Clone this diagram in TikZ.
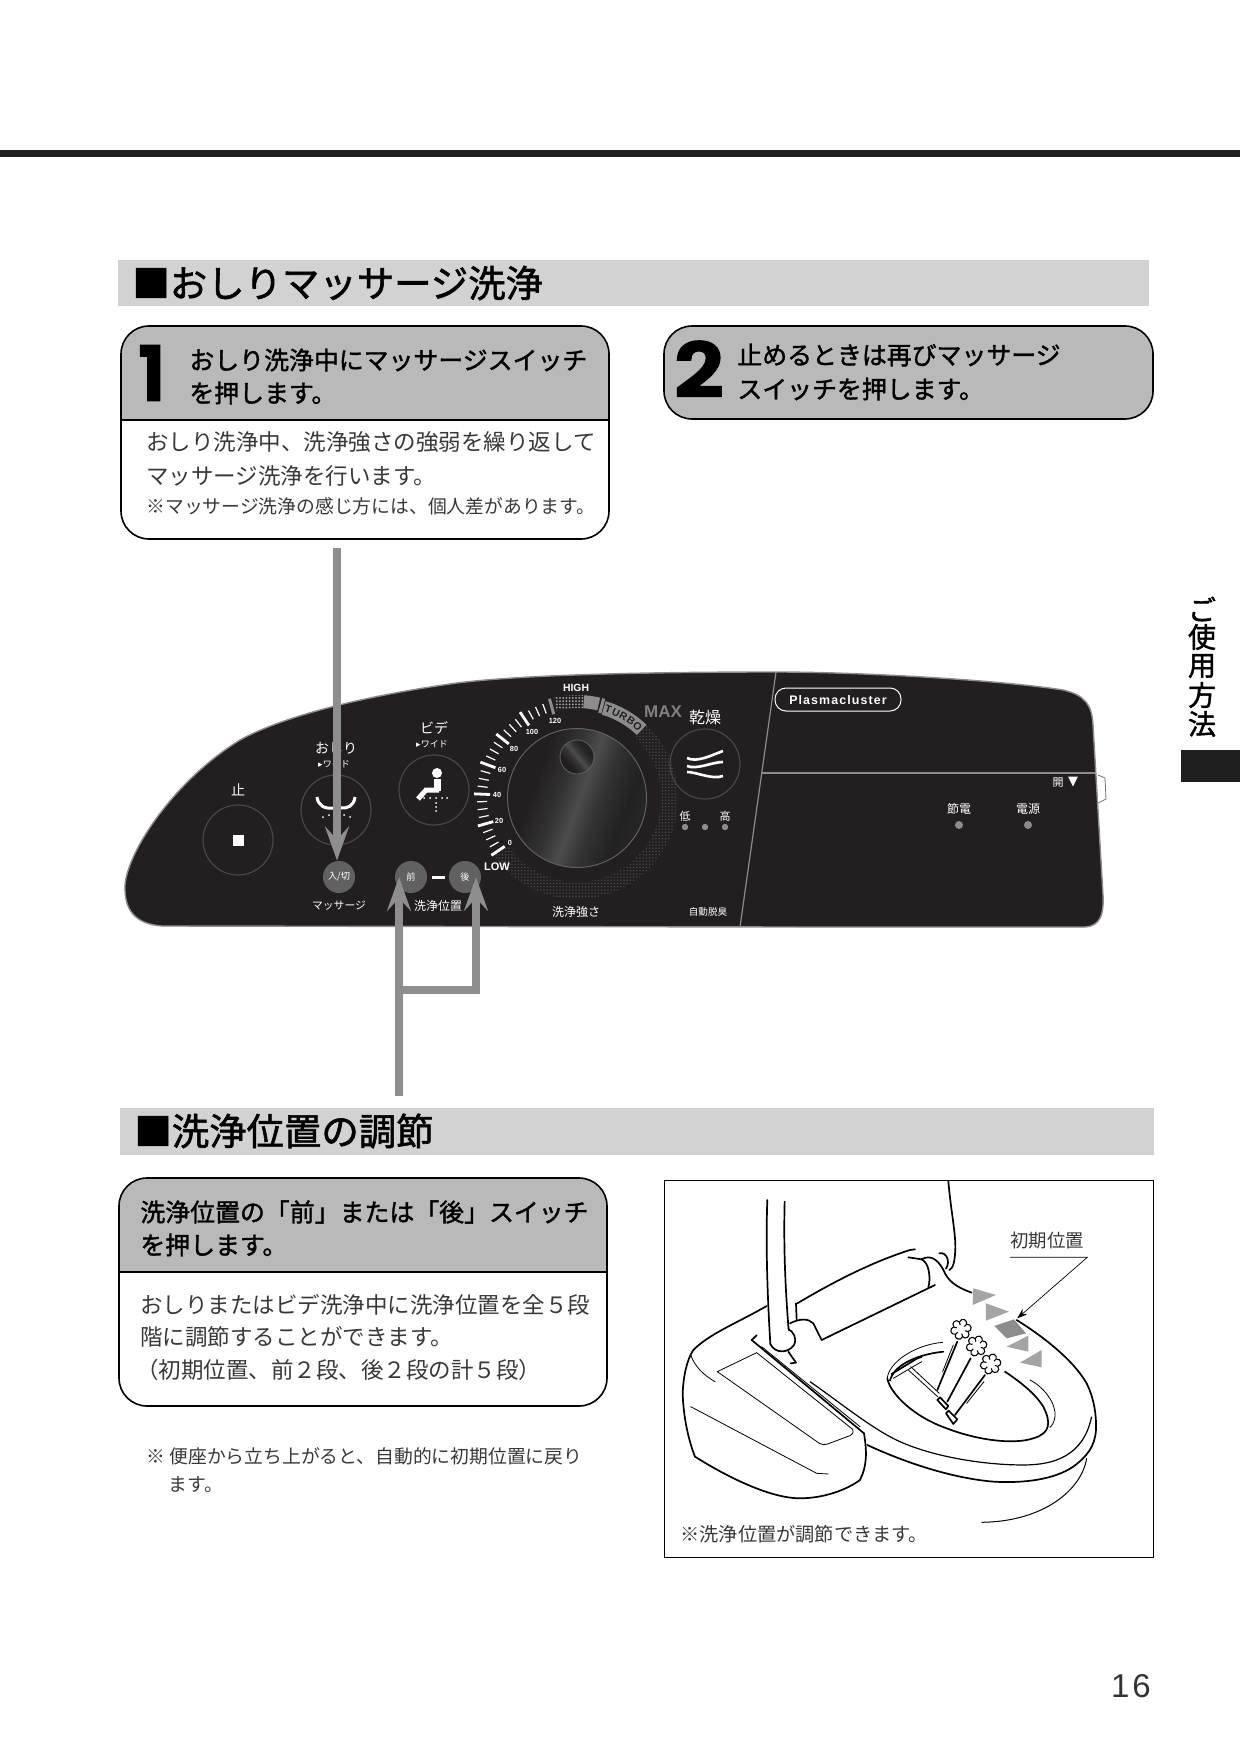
\documentclass[tikz,border=0pt]{standalone}
\usepackage{fontspec}
\usetikzlibrary{arrows.meta,patterns.meta}
\setmainfont{Noto Sans CJK JP}
\newfontfamily\jpmid[FakeBold=1.5]{Noto Sans CJK JP}
\newfontfamily\jptxt{Noto Sans CJK JP}
\newfontfamily\numfont[FakeBold=3.5]{Poppins SemiBold}
\newfontfamily\latbold{Liberation Sans Bold}
\newfontfamily\plasmafont[LetterSpace=9]{Liberation Sans Bold}
\newfontfamily\pagefont[LetterSpace=9]{Liberation Sans}
\newfontfamily\symfont{DejaVu Sans}
\newcommand{\fz}[1]{\fontsize{#1}{#1}\selectfont}
\definecolor{panelblack}{HTML}{231F20}
\definecolor{bandgray}{HTML}{D2D2D2}
\definecolor{headgray}{HTML}{B9B9B9}
\definecolor{arrowgray}{HTML}{8E8E8E}
\definecolor{marktri}{HTML}{A4A4A4}
\pgfdeclarehorizontalshading{knobshade}{100bp}{color(0bp)=(panelblack);color(34bp)=(panelblack);color(44bp)=(black!80);color(51bp)=(black!70);color(58bp)=(black!80);color(68bp)=(black!87);color(100bp)=(black!78)}

\begin{document}
\begin{tikzpicture}[
    x=0.5pt,y=-0.5pt,
    sechead/.style={anchor=west,inner sep=0pt,font=\jpmid\fz{18.7}},
    stephead/.style={anchor=west,inner sep=0pt,font=\jpmid\fz{12.45}},
    stepbody/.style={anchor=west,inner sep=0pt,text=black!78,font=\jptxt\fz{11.25}},
    stepnote/.style={anchor=west,inner sep=0pt,text=black!78,font=\jptxt\fz{9.4}},
    bignum/.style={inner sep=0pt,font=\numfont\fz{37}},
    box/.style={draw=black,line width=0.8pt,rounded corners=14pt},
    btn/.style={circle,draw=black!72,fill=panelblack,line width=0.6pt,minimum size=35pt,inner sep=0pt},
    minibtn/.style={circle,fill=black!62,minimum size=16pt,inner sep=0pt,text=white,font=\jptxt\fz{4.6}},
    lbl/.style={inner sep=0pt,text=white,font=\jptxt\fz{6}},
    lamp/.style={circle,fill=black!45,minimum size=4pt,inner sep=0pt},
    ticknum/.style={inner sep=0pt,text=white,font=\latbold\fz{3.7}},
    pointer/.style={draw=arrowgray,line width=4pt,-{Stealth[length=17pt,width=12pt,inset=6.5pt]}},
    seatline/.style={draw=black,line width=0.85pt,line cap=round,line join=round},
    thinline/.style={draw=black,line width=0.4pt,line cap=round},
    marker/.style={fill=marktri,draw=none},
]
\useasboundingbox (0,0) rectangle (1240,1754);

% top rule
\fill[black!88] (0,150) rectangle (1240,157);

% first section
\fill[bandgray] (118,260) rectangle (1149,306);
\node[sechead] (massagetitle) at (132,283) {■おしりマッサージ洗浄};

% step one
\begin{scope}
    \clip[rounded corners=14pt] (121,326) rectangle (609,539);
    \fill[headgray] (121,326) rectangle (609,420);
\end{scope}
\draw[box] (121,326) rectangle (609,539);
\draw[line width=0.8pt] (121,420) -- (609,420);
\node[bignum] (numone) at (152,373) {1};
\node[stephead] (oneheada) at (189,360) {おしり洗浄中にマッサージスイッチ};
\node[stephead] (oneheadb) at (189,393) {を押します。};
\node[stepbody] (onebodya) at (146,442) {おしり洗浄中、洗浄強さの強弱を繰り返して};
\node[stepbody] (onebodyb) at (146,476) {マッサージ洗浄を行います。};
\node[stepnote] (onenote) at (146,506) {※マッサージ洗浄の感じ方には、個人差があります。};

% step two
\draw[box,fill=headgray] (664,326) rectangle (1153,419);
\node[bignum,xscale=1.15] (numtwo) at (699,369) {2};
\node[stephead] (twoheada) at (737,355) {止めるときは再びマッサージ};
\node[stephead] (twoheadb) at (737,389) {スイッチを押します。};

% side tab
\foreach \ch/\yy/\idx in {ご/609/a,使/637/b,用/666/c,方/695/d,法/724/e}
    \node[inner sep=0pt,font=\jpmid\fz{14}] (tab\idx) at (1202,\yy) {\ch};
\fill[black!88] (1181,750) rectangle (1240,782);

% remote panel
\draw[draw=black!45,fill=panelblack,line width=0.7pt] (162,926)
    .. controls (135,924) and (124,910) .. (125,885)
    .. controls (128,850) and (175,780) .. (240,740)
    .. controls (285,715) and (370,695) .. (457,683)
    .. controls (520,675) and (640,672) .. (776,672)
    .. controls (860,672) and (1000,680) .. (1063,690)
    .. controls (1085,695) and (1092,705) .. (1093,725)
    -- (1103,895)
    .. controls (1104,915) and (1100,926) .. (1085,927)
    -- (800,927) -- cycle;
\draw[black!45,line width=0.6pt] (776,672) -- (740,927);
\draw[black!45,line width=0.7pt] (762,773) -- (1095,773);
\draw[black!55,line width=0.4pt,fill=white] (1098,775) -- (1105,778) -- (1106,799) -- (1098,803);
\draw[white,line width=0.5pt,rounded corners=5.5pt] (775,688) rectangle (901,711);
\node[inner sep=0pt,text=white,font=\plasmafont\fz{6.2}] (plasmalabel) at (838,700) {Plasmacluster};
\node[lbl,font=\jptxt\fz{5.5}] (openlabel) at (1058,783) {開};
\node[inner sep=0pt,text=white,font=\symfont\fz{6.5}] (openmark) at (1073,782) {▼};
\node[lbl] (savelabel) at (959,809) {節電};
\node[lbl] (powerlabel) at (1028,809) {電源};
\node[lamp] (savelamp) at (959,825) {};
\node[lamp] (powerlamp) at (1028,825) {};

% buttons
\node[btn] (btnstop) at (238,840) {};
\fill[white] (232.5,834.5) rectangle (243.5,845.5);
\node[lbl,font=\jptxt\fz{7}] (stoplabel) at (238,790) {止};
\node[btn] (btnoshiri) at (336,810) {};
\node[lbl,font=\jptxt\fz{7}] (oshirilabel) at (336,748) {おしり};
\node[lbl,font=\jptxt\fz{4.5}] (oshiriwide) at (334,764) {{\symfont ▸}ワイド};
\node[btn] (btnbidet) at (434,790) {};
\node[lbl,font=\jptxt\fz{7}] (bidetlabel) at (434,728) {ビデ};
\node[lbl,font=\jptxt\fz{4.5}] (bidetwide) at (432,744) {{\symfont ▸}ワイド};
\node[btn] (btndry) at (705,764) {};
\node[lbl,font=\jptxt\fz{8}] (drylabel) at (705,717) {乾燥};
\node[minibtn] (btnmass) at (339,877) {入/切};
\node[minibtn] (btnfront) at (411,877) {前};
\node[minibtn] (btnrear) at (465,877) {後};
\fill[white] (432,876) rectangle (445,878.5);
\node[lbl,font=\jptxt\fz{5.4}] (masslabel) at (339,906) {マッサージ};
\node[lbl] (poslabel) at (438,906) {洗浄位置};
\node[lbl] (forcelabel) at (576,912) {洗浄強さ};
\node[lbl,font=\jptxt\fz{4.8}] (deodlabel) at (708,912) {自動脱臭};
\node[lbl,font=\jptxt\fz{5.5}] (lowheat) at (685,816) {低};
\node[lbl,font=\jptxt\fz{5.5}] (highheat) at (725,816) {高};
\foreach \xx/\idx in {685/a,705/b,725/c}
    \node[lamp,minimum size=3.2pt] (heat\idx) at (\xx,827) {};

% button icons
\draw[white,line width=1.5pt] (317,797) .. controls (318,806) and (325,809) .. (333,808);
\draw[white,line width=1.5pt] (355,797) .. controls (354,806) and (347,809) .. (340,808);
\foreach \xx/\yy in {323/817,329/815,334/816,339/816,344/815,350/817}
    \fill[white] (\xx,\yy) circle [radius=1];
\fill[white] (437,773) circle [radius=5];
\draw[white,line width=3.5pt] (437,779) -- (437,791);
\draw[white,line width=2.5pt] (439,790) -- (426,790) -- (418,799);
\foreach \xx/\yy in {424/798,430/798,436/798,442/798,447/798,436/803,436/807,436/811}
    \fill[white] (\xx,\yy) circle [radius=1];
\draw[white,line width=1.3pt] (687,758) .. controls (697,763) and (712,755) .. (723,751);
\draw[white,line width=1.3pt] (687,766) .. controls (697,770) and (712,762) .. (723,762);
\draw[white,line width=1.3pt] (687,772) .. controls (697,772) and (712,780) .. (723,776);

% dial
\begin{scope}[shift={(577,798)}]
    % dotted ring
    \fill[pattern={Dots[radius=0.45pt,distance=1.6pt]},pattern color=black!72] (-46:84) arc[start angle=-46,end angle=146,radius=84] -- (146:101) arc[start angle=146,end angle=-46,radius=101] -- cycle;
    \fill[pattern={Dots[radius=0.55pt,distance=1.6pt]},pattern color=black!40] (-103:90) arc[start angle=-103,end angle=-86,radius=90] -- (-86:103) arc[start angle=-86,end angle=-103,radius=103] -- cycle;
    \fill[black!45] (-86:90) arc[start angle=-86,end angle=-77,radius=90] -- (-77:103) arc[start angle=-77,end angle=-86,radius=103] -- cycle;
    \draw[black!45,line width=1.6pt] (-75:88) -- (-75:103);
    % turbo band
    \fill[black!45] (-73.5:87) arc[start angle=-73.5,end angle=-46.5,radius=87] -- (-46.5:101) arc[start angle=-46.5,end angle=-73.5,radius=101] -- cycle;
    \foreach \ch/\aa/\idx in {T/70.5/a,U/65.5/b,R/60.5/c,B/55/d,O/50/e}
        \node[inner sep=0pt,rotate=\aa-90,text=panelblack,font=\latbold\fz{5.2}] (turbo\idx) at (-\aa:94) {\ch};
    % scale marks
    \foreach \nn in {0,...,23}{
        \pgfmathsetmacro{\aa}{-(213.8-4.513*\nn)}
        \pgfmathtruncatemacro{\md}{mod(\nn,4)}
        \ifnum\md=0
            \draw[white,line width=1.4pt] (\aa:87) -- (\aa:103);
        \else
            \draw[white,line width=0.6pt] (\aa:90) -- (\aa:100);
        \fi
    }
    \draw[black!45,line width=1.5pt] (-105.5:87) -- (-105.5:103);
    % knob
    \shade[shading=knobshade,shading angle=-20,draw=black!62,line width=0.5pt] (0,0) circle [radius=69.5];
    \shade[shading=knobshade,shading angle=40,draw=black!62,line width=0.4pt] (0,-41) circle [radius=17];
\end{scope}
\foreach \tx/\xx/\yy/\idx in {0/510/843/a,20/499/821/b,40/497/795/c,60/502/770/d,80/514/749/e,100/532/732/f,120/555/721/g}
    \node[ticknum] (tick\idx) at (\xx,\yy) {\tx};
\node[inner sep=0pt,text=white,font=\latbold\fz{5.2}] (highlabel) at (576,688) {HIGH};
\node[inner sep=0pt,text=white,font=\latbold\fz{5.5}] (lowlabel) at (497,867) {LOW};
\node[inner sep=0pt,text=black!50,font=\latbold\fz{8.5}] (maxlabel) at (663,712) {MAX};

% arrows
\coordinate (masstop) at (337,548);
\coordinate (fronttail) at (399,1096);
\coordinate (frontjoin) at (399,990);
\coordinate (rearjoin) at (476,990);
\draw[pointer] (masstop) -- (masstop |- btnmass.north);
\draw[pointer] (fronttail) -- (fronttail |- btnfront);
\draw[pointer] (rearjoin) -- (rearjoin |- btnrear);
\draw[draw=arrowgray,line width=4pt,line cap=rect] (frontjoin) -- (rearjoin);

% second section
\fill[bandgray] (120,1108) rectangle (1154,1155);
\node[sechead] (postitle) at (134,1131) {■洗浄位置の調節};
\begin{scope}
    \clip[rounded corners=14pt] (119,1178) rectangle (607,1406);
    \fill[headgray] (119,1178) rectangle (607,1272);
\end{scope}
\draw[box] (119,1178) rectangle (607,1406);
\draw[line width=0.8pt] (119,1272) -- (607,1272);
\node[stephead] (posheada) at (140,1212) {洗浄位置の「前」または「後」スイッチ};
\node[stephead] (posheadb) at (140,1245) {を押します。};
\node[stepbody] (posbodya) at (140,1305) {おしりまたはビデ洗浄中に洗浄位置を全５段};
\node[stepbody] (posbodyb) at (140,1337) {階に調節することができます。};
\node[stepbody] (posbodyc) at (136,1370) {（初期位置、前２段、後２段の計５段）};
\node[stepnote] (posnotea) at (146,1456) {※ 便座から立ち上がると、自動的に初期位置に戻り};
\node[stepnote] (posnoteb) at (168,1485) {ます。};

% seat picture
\draw[black,line width=0.45pt] (664,1180) rectangle (1153,1557);
\begin{scope}[shift={(660,1170)},scale=0.3333]
    % lid and hinge
    \draw[seatline] (865,32) .. controls (872,120) and (888,190) .. (886,240) .. controls (884,275) and (880,295) .. (868,300);
    \draw[seatline] (838,250) .. controls (860,245) and (872,275) .. (858,296);
    \draw[seatline] (412,400) .. controls (530,330) and (640,275) .. (750,240) -- (765,238);
    \draw[seatline] (745,262) -- (785,268) .. controls (810,280) and (812,330) .. (805,352);
    \draw[seatline] (485,510) -- (825,345);
    \draw[seatline] (408,400) -- (410,450);
    \draw[seatline] (390,460) .. controls (420,445) and (445,445) .. (460,460) -- (485,510);
    \draw[seatline] (785,268) .. controls (815,250) and (840,275) .. (855,310) .. controls (870,340) and (900,355) .. (935,368);
    % spout
    \draw[seatline] (322,90) .. controls (316,250) and (325,420) .. (331,522);
    \draw[seatline] (374,95) .. controls (370,250) and (378,380) .. (386,480);
    \draw[seatline] (331,522) .. controls (345,552) and (385,550) .. (402,525) .. controls (412,505) and (400,485) .. (386,478);
    \draw[seatline] (385,545) -- (408,578) -- (392,580);
    % body
    \draw[seatline] (320,408) .. controls (230,460) and (150,490) .. (100,540) .. controls (80,570) and (70,620) .. (68,670) .. controls (70,740) and (85,810) .. (105,860) .. controls (200,920) and (330,985) .. (420,985) .. controls (490,985) and (560,960) .. (600,930) .. controls (620,890) and (622,850) .. (612,790);
    \draw[thinline] (92,555) .. controls (105,590) and (130,615) .. (165,635);
    \draw[thinline] (92,710) -- (470,910) -- (505,912);
    \draw[thinline] (172,605) -- (290,548) -- (578,778) .. controls (582,790) and (575,795) .. (570,797) -- (500,823) .. controls (490,824) and (485,824) .. (478,820) -- cycle;
    \draw[seatline] (290,496) -- (275,510) -- (612,790);
    \draw[thinline] (305,530) -- (600,770);
    % seat
    \draw[seatline] (1070,450) .. controls (1150,500) and (1240,570) .. (1280,640) .. controls (1300,680) and (1310,730) .. (1308,780) .. controls (1305,830) and (1280,860) .. (1240,890) .. controls (1180,930) and (1090,940) .. (1000,935) .. controls (880,925) and (740,880) .. (622,825);
    \draw[line width=0.6pt] (450,635) .. controls (530,690) and (640,780) .. (720,815) .. controls (820,860) and (970,885) .. (1090,885) .. controls (1180,885) and (1270,860) .. (1295,740);
    \draw[seatline] (682,625) .. controls (690,670) and (760,740) .. (860,775) .. controls (950,810) and (1060,825) .. (1120,805) .. controls (1170,790) and (1175,760) .. (1150,710) .. controls (1125,670) and (1080,635) .. (1035,605);
    \draw[thinline] (1110,630) .. controls (1150,650) and (1190,700) .. (1185,740) .. controls (1183,755) and (1178,765) .. (1170,772);
    \draw[thinline] (682,625) .. controls (685,580) and (760,525) .. (848,517);
    \draw[seatline] (690,632) .. controls (700,590) and (760,555) .. (850,545);
    \draw[seatline] (695,612) -- (772,565);
    \draw[thinline] (700,625) -- (785,575);
    \draw[line width=1.1pt] (770,565) -- (785,560);
    % nozzles
    \draw[thinline] (745,600) -- (833,680);
    \draw[thinline] (752,590) -- (838,670);
    \draw[seatline] (832,690) -- (858,718) -- (865,708) -- (840,682) -- cycle;
    \draw[seatline] (858,730) -- (880,762) -- (892,748) -- (866,722) -- cycle;
    \draw[seatline] (832,660) -- (892,515);
    \draw[thinline] (848,605) -- (880,525);
    \draw[seatline] (862,695) -- (932,565);
    \draw[seatline] (885,735) -- (975,615);
    \draw[thinline] (920,700) -- (972,635);
    \foreach \cx/\cy in {903/478,950/528,992/582}
        \foreach \aa in {0,60,...,300}
            \draw[line width=0.55pt] ([shift={(\cx,\cy)}]\aa+20:23) arc[start angle=\aa-40,end angle=\aa+190,radius=11];
    \draw[line width=0.5pt] (1280,865) .. controls (1265,960) and (1150,1055) .. (965,1057);
    % position markers
    \fill[marker] (940,355) -- (1008,375) -- (938,405) -- cycle;
    \fill[marker] (978,400) -- (1047,425) -- (978,452) -- cycle;
    \fill[black!45] (1003,468) -- (1062,448) -- (1098,490) -- (1040,505) -- cycle;
    \fill[marker] (1040,530) -- (1105,497) -- (1105,545) -- cycle;
    \fill[marker] (1080,578) -- (1145,540) -- (1145,592) -- cycle;
    % leader
    \coordinate (leaderstart) at (1050,262);
    \coordinate (leaderbend) at (1282,262);
    \coordinate (leaderend) at (1072,445);
    \draw[line width=0.35pt,-{Stealth[length=5pt,width=3.5pt]}] (leaderstart) -- (leaderbend) -- (leaderend);
\end{scope}
\node[inner sep=0pt,text=black!78,font=\jptxt\fz{9.2}] (initlabel) at (1047,1241) {初期位置};
\node[stepnote,font=\jptxt\fz{9.6}] (seatnote) at (680,1534) {※洗浄位置が調節できます。};

% page number
\node[inner sep=0pt,text=black!80,font=\pagefont\fz{16.5}] (pagenum) at (1131,1686) {16};
\end{tikzpicture}
\end{document}
